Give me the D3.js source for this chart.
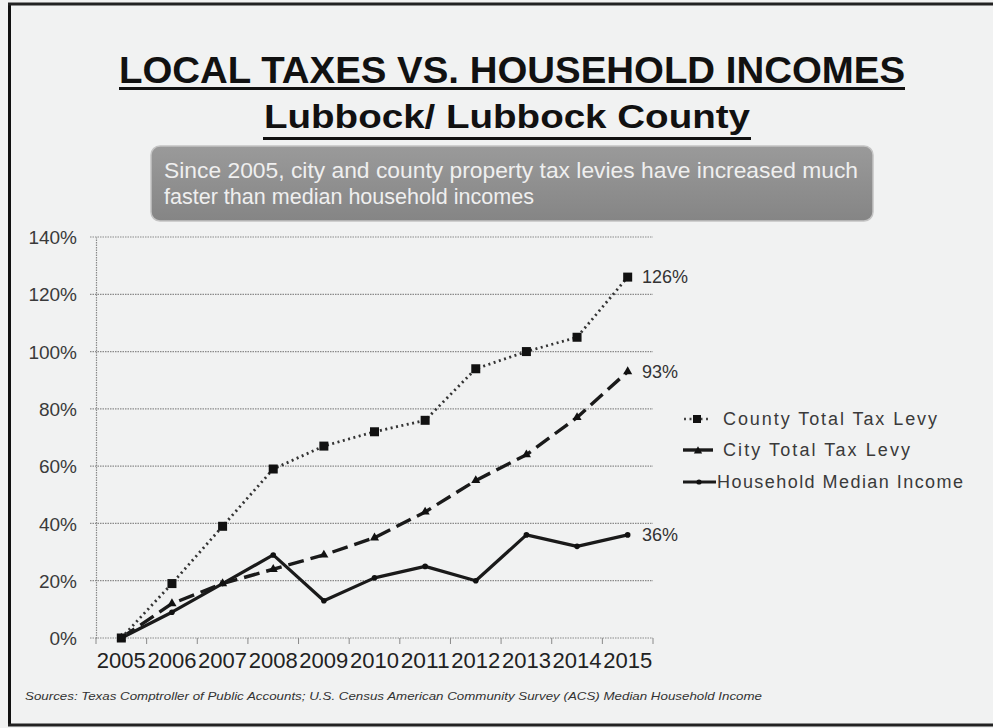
<!DOCTYPE html>
<html><head><meta charset="utf-8">
<script src="https://cdn.jsdelivr.net/npm/d3@7"></script>
<style>
html,body{margin:0;padding:0;background:#f1f2f2;}
svg{display:block;font-family:"Liberation Sans",Arial,sans-serif;}
</style></head>
<body>
<svg id="chart" width="993" height="728"></svg>
<script>
const years = ["2005","2006","2007","2008","2009","2010","2011","2012","2013","2014","2015"];
const countyLevy = [0, 19, 39, 59, 67, 72, 76, 94, 100, 105, 126];
const cityLevy = [0, 12, 19, 24, 29, 35, 44, 55, 64, 77, 93];
const medianIncome = [0, 9, 19, 29, 13, 21, 25, 20, 36, 32, 36];
const yTicks = [0, 20, 40, 60, 80, 100, 120, 140];
const seriesNames = ["County Total Tax Levy", "City Total Tax Levy", "Household Median Income"];
const endLabels = ["126%", "93%", "36%"];
const titleText = "LOCAL TAXES VS. HOUSEHOLD INCOMES";
const subtitleText = "Lubbock/ Lubbock County";
const calloutLines = ["Since 2005, city and county property tax levies have increased much", "faster than median household incomes"];
const sourceText = "Sources: Texas Comptroller of Public Accounts; U.S. Census American Community Survey (ACS) Median Household Income";

const svg = d3.select("#chart");
svg.append("rect").attr("width",993).attr("height",728).attr("fill","#f1f2f2");

// frame
svg.append("line").attr("x1",9.5).attr("x2",9.5).attr("y1",3).attr("y2",726).attr("stroke","#111").attr("stroke-width",3);
svg.append("line").attr("x1",8).attr("x2",993).attr("y1",4).attr("y2",4).attr("stroke","#222").attr("stroke-width",3);
svg.append("line").attr("x1",8).attr("x2",993).attr("y1",725).attr("y2",725).attr("stroke","#222").attr("stroke-width",3);

// title
svg.append("text").attr("x",119).attr("y",83).attr("font-weight","bold").attr("font-size",37)
  .attr("fill","#111").attr("textLength",786).attr("lengthAdjust","spacingAndGlyphs").text(titleText);
svg.append("rect").attr("x",119).attr("y",87).attr("width",786).attr("height",3).attr("fill","#111");
svg.append("text").attr("x",264).attr("y",128).attr("font-weight","bold").attr("font-size",33)
  .attr("fill","#111").attr("textLength",486).attr("lengthAdjust","spacingAndGlyphs").text(subtitleText);
svg.append("rect").attr("x",263).attr("y",137).attr("width",488).attr("height",3).attr("fill","#111");

// callout box
const defs = svg.append("defs");
const grad = defs.append("linearGradient").attr("id","boxg").attr("x1",0).attr("x2",0).attr("y1",0).attr("y2",1);
grad.append("stop").attr("offset","0%").attr("stop-color","#9a9a9a");
grad.append("stop").attr("offset","100%").attr("stop-color","#858585");
svg.append("rect").attr("x",151).attr("y",146).attr("width",722).attr("height",75).attr("rx",9)
  .attr("fill","url(#boxg)").attr("stroke","#c4c4c4").attr("stroke-width",1.5);
svg.append("text").attr("x",164).attr("y",178).attr("font-size",22).attr("fill","#efefef")
  .attr("textLength",694).attr("lengthAdjust","spacingAndGlyphs").text(calloutLines[0]);
svg.append("text").attr("x",164).attr("y",204).attr("font-size",22).attr("fill","#efefef")
  .attr("textLength",370).attr("lengthAdjust","spacingAndGlyphs").text(calloutLines[1]);

// scales
const x = d3.scaleBand().domain(years).range([96,653]);
const y = d3.scaleLinear().domain([0,140]).range([638,237]);
const cx = d => x(d) + x.bandwidth()/2;

// gridlines
svg.append("g").selectAll("line").data(yTicks).join("line")
  .attr("x1",90).attr("x2",653).attr("y1",d=>y(d)).attr("y2",d=>y(d))
  .attr("stroke","#8a8a8a").attr("stroke-width",1.2).attr("stroke-dasharray","1.5,1");

// y axis
const yAxis = d3.axisLeft(y).tickValues(yTicks).tickFormat(d=>d+"%").tickSize(0).tickPadding(19);
const gy = svg.append("g").attr("transform","translate(96,0)").call(yAxis);
gy.select(".domain").attr("stroke","#8a8a8a").attr("stroke-width",1.2).attr("stroke-dasharray","1.5,1");
gy.selectAll("text").attr("font-size",19).attr("fill","#3a3a3a").attr("font-family","Liberation Sans, Arial, sans-serif").attr("dy","0.35em");

// x axis
const xAxis = d3.axisBottom(x).tickSize(0).tickPadding(14);
const gx = svg.append("g").attr("transform","translate(0,638)").call(xAxis);
gx.select(".domain").remove();
gx.selectAll("text").attr("font-size",22).attr("fill","#222").attr("font-family","Liberation Sans, Arial, sans-serif")
  .attr("textLength",49).attr("lengthAdjust","spacingAndGlyphs");
const bounds = years.map(d=>x(d)).concat([653]);
svg.append("g").selectAll("line").data(bounds).join("line")
  .attr("x1",d=>d).attr("x2",d=>d).attr("y1",638).attr("y2",644)
  .attr("stroke","#8a8a8a").attr("stroke-width",1);

// lines
const mk = arr => d3.line().x((d,i)=>cx(years[i])).y(d=>y(d))(arr);
svg.append("path").attr("d",mk(medianIncome)).attr("fill","none").attr("stroke","#1a1a1a").attr("stroke-width",3.2).attr("stroke-linejoin","round");
svg.append("path").attr("d",mk(cityLevy)).attr("fill","none").attr("stroke","#1a1a1a").attr("stroke-width",3.4).attr("stroke-dasharray","16,7");
svg.append("path").attr("d",mk(countyLevy)).attr("fill","none").attr("stroke","#333").attr("stroke-width",2.8).attr("stroke-dasharray","2,3.5");

// markers
svg.append("g").selectAll("rect").data(countyLevy).join("rect")
  .attr("x",(d,i)=>cx(years[i])-4.5).attr("y",d=>y(d)-4.5).attr("width",9).attr("height",9).attr("fill","#111");
svg.append("g").selectAll("path").data(cityLevy).join("path")
  .attr("d",d3.symbol(d3.symbolTriangle,36)).attr("transform",(d,i)=>`translate(${cx(years[i])},${y(d)})`).attr("fill","#111");
svg.append("g").selectAll("circle").data(medianIncome).join("circle")
  .attr("cx",(d,i)=>cx(years[i])).attr("cy",d=>y(d)).attr("r",2.8).attr("fill","#111");

// end labels
const lastVals = [countyLevy[10], cityLevy[10], medianIncome[10]];
svg.append("g").selectAll("text").data(endLabels).join("text")
  .attr("x",642).attr("y",(d,i)=>y(lastVals[i])+6).attr("font-size",18).attr("fill","#333").text(d=>d);

// legend
const legY = [419, 450, 482];
const lg = svg.append("g");
lg.append("line").attr("x1",684).attr("x2",710).attr("y1",legY[0]).attr("y2",legY[0]).attr("stroke","#444").attr("stroke-width",2.6).attr("stroke-dasharray","2,3.5");
lg.append("rect").attr("x",693).attr("y",legY[0]-4).attr("width",8).attr("height",8).attr("fill","#111");
lg.append("line").attr("x1",683).attr("x2",713).attr("y1",legY[1]).attr("y2",legY[1]).attr("stroke","#1a1a1a").attr("stroke-width",3.4);
lg.append("path").attr("d",d3.symbol(d3.symbolTriangle,30)).attr("transform",`translate(698,${legY[1]+1})`).attr("fill","#111");
lg.append("line").attr("x1",683).attr("x2",716).attr("y1",legY[2]).attr("y2",legY[2]).attr("stroke","#1a1a1a").attr("stroke-width",3);
lg.append("circle").attr("cx",699).attr("cy",legY[2]).attr("r",2.6).attr("fill","#111");
const legW = [214, 187, 246];
const legX = [723, 723, 717];
lg.selectAll("text").data(seriesNames).join("text")
  .attr("x",(d,i)=>legX[i]).attr("y",(d,i)=>legY[i]+6).attr("font-size",18).attr("fill","#3a3a3a")
  .attr("textLength",(d,i)=>legW[i]).attr("lengthAdjust","spacing").text(d=>d);

// source
svg.append("text").attr("x",25).attr("y",700).attr("font-size",10.5).attr("font-style","italic").attr("fill","#333")
  .attr("textLength",737).attr("lengthAdjust","spacingAndGlyphs").text(sourceText);
</script>
</body></html>
